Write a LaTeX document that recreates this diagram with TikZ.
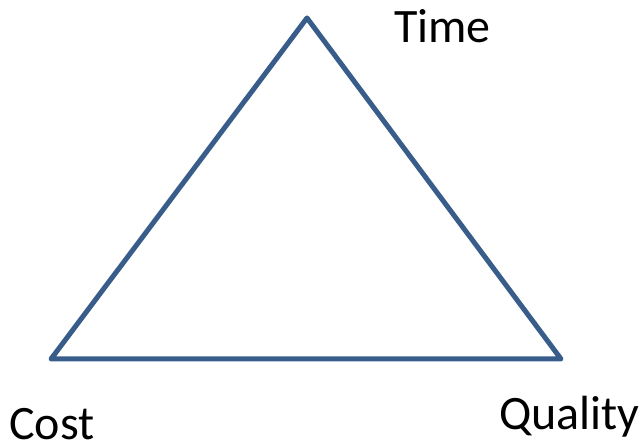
\documentclass[tikz,border=0pt]{standalone}
\usepackage{fontspec}
\setmainfont{Carlito}
\usepackage{xcolor}
\usepackage{tikz}

\begin{document}
\begin{tikzpicture}[x=1pt, y=1pt, every node/.style={font=\fontsize{48}{56}\selectfont, inner sep=0pt}]
  \definecolor{azulBorde}{RGB}{56,93,138}
  \useasboundingbox (0,0) rectangle (640,446);

  \coordinate (T) at (307,428);
  \coordinate (C) at (51,87);
  \coordinate (Q) at (561,87);

  \node[anchor=base west] (time) at (394,403) {Time};
  \node[anchor=base west] (cost) at (9,6) {Cost};
  \node[anchor=base west] (quality) at (499,16) {Quality};

  \draw[azulBorde, line width=5pt, line join=round] (C) -- (Q) -- (T) -- cycle;
\end{tikzpicture}
\end{document}
